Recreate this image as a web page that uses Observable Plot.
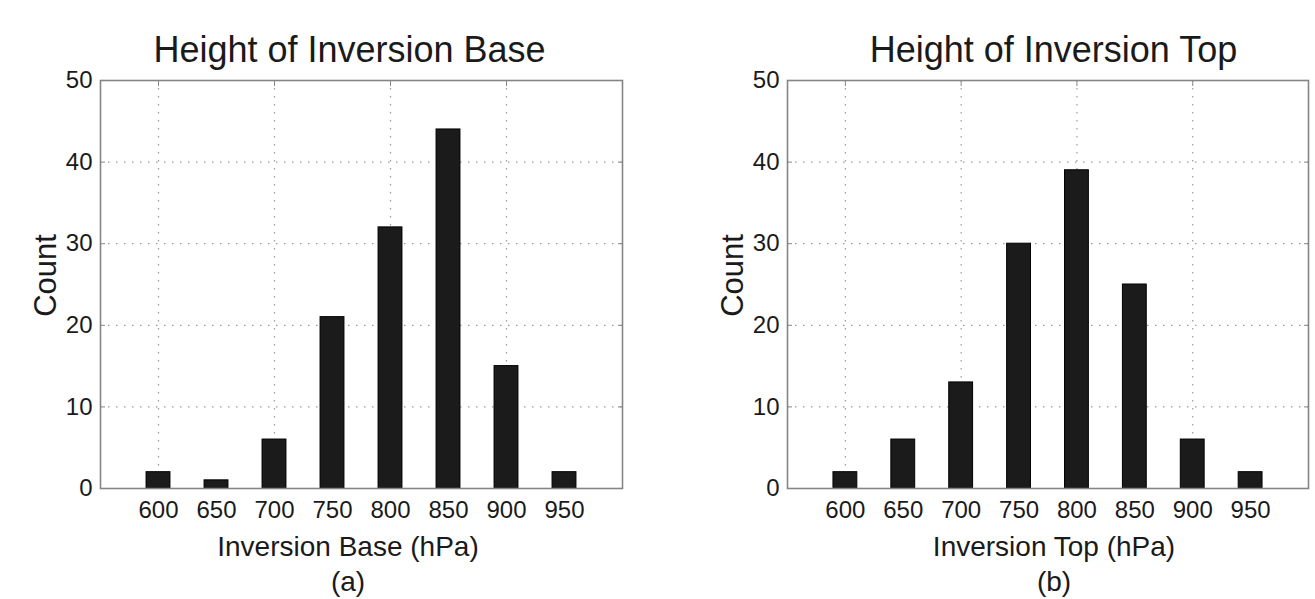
<!DOCTYPE html>
<html>
<head>
<meta charset="utf-8">
<script src="https://cdn.jsdelivr.net/npm/d3@7"></script>
<script src="https://cdn.jsdelivr.net/npm/@observablehq/plot@0.6"></script>
<style>
  html, body { margin: 0; padding: 0; background: #fff; overflow: hidden; }
  #wrap { display: flex; width: 1315px; height: 599px; }
  #wrap svg { display: block; }
</style>
</head>
<body>
<div id="wrap"></div>
<script>
// ---- data ----
const pressure = [600, 650, 700, 750, 800, 850, 900, 950];
const baseCounts = [2, 1, 6, 21, 32, 44, 15, 2];
const topCounts = [2, 6, 13, 30, 39, 25, 6, 2];
const gridTicksX = [600, 700, 800, 900];
const ticksY = [0, 10, 20, 30, 40, 50];
const gridTicksY = [10, 20, 30, 40];
const titles = ["Height of Inversion Base", "Height of Inversion Top"];
const xLabels = ["Inversion Base (hPa)", "Inversion Top (hPa)"];
const tags = ["(a)", "(b)"];
const yLabel = "Count";

const FONT = "'Liberation Sans', Arial, Helvetica, sans-serif";
const HALF = 10.3; // half bar width in hPa

function panel(counts, i, width, marginLeft, marginRight, textDx) {
  const rows = pressure.map((p, k) => ({p, count: counts[k]}));
  return Plot.plot({
    width, height: 599,
    marginLeft, marginRight, marginTop: 80, marginBottom: 111,
    x: {domain: [550, 1000]},
    y: {domain: [0, 50]},
    style: {fontFamily: FONT, color: "#1a1a1a", background: "#fff", overflow: "visible"},
    marks: [
      Plot.gridX(gridTicksX, {stroke: "#9a9a9a", strokeOpacity: 1, strokeWidth: 1.2, strokeDasharray: "1.5,6.5"}),
      Plot.gridY(gridTicksY, {stroke: "#9a9a9a", strokeOpacity: 1, strokeWidth: 1.2, strokeDasharray: "1.5,6.5"}),
      Plot.rectY(rows, {x1: d => d.p - HALF, x2: d => d.p + HALF, y: "count", fill: "#1b1b1b", stroke: "#000", strokeWidth: 1}),
      Plot.frame({stroke: "#858585", strokeWidth: 1.6}),
      Plot.axisY({anchor: "left", ticks: ticksY, tickSize: 0, tickPadding: 8, fontSize: 24, label: null}),
      Plot.axisY({anchor: "left", ticks: ticksY, tickSize: -5, fill: "none", stroke: "#858585", label: null}),
      Plot.axisY({anchor: "right", ticks: ticksY, tickSize: -5, fill: "none", stroke: "#858585", label: null}),
      Plot.axisX({anchor: "bottom", ticks: pressure, tickSize: 0, tickPadding: 12, fontSize: 24, label: null}),
      Plot.axisX({anchor: "top", ticks: gridTicksX, tickSize: -5, fill: "none", stroke: "#858585", label: null}),
      Plot.text([titles[i]], {text: d => d, frameAnchor: "top", lineAnchor: "middle", textAnchor: "middle", dy: -30.5, dx: textDx[0], fontSize: 36}),
      Plot.text([xLabels[i]], {text: d => d, frameAnchor: "bottom", lineAnchor: "middle", textAnchor: "middle", dy: 59, dx: textDx[1], fontSize: 28}),
      Plot.text([tags[i]], {text: d => d, frameAnchor: "bottom", lineAnchor: "middle", textAnchor: "middle", dy: 94, dx: textDx[1], fontSize: 28}),
      Plot.text([yLabel], {text: d => d, frameAnchor: "left", lineAnchor: "middle", textAnchor: "middle", dx: -54, dy: -9, rotate: -90, fontSize: 31})
    ]
  });
}

const wrap = document.getElementById("wrap");
wrap.append(panel(baseCounts, 0, 657, 100, 35, [-12, -13.5]));
wrap.append(panel(topCounts, 1, 658, 130, 7, [5.5, 6]));
</script>
</body>
</html>
